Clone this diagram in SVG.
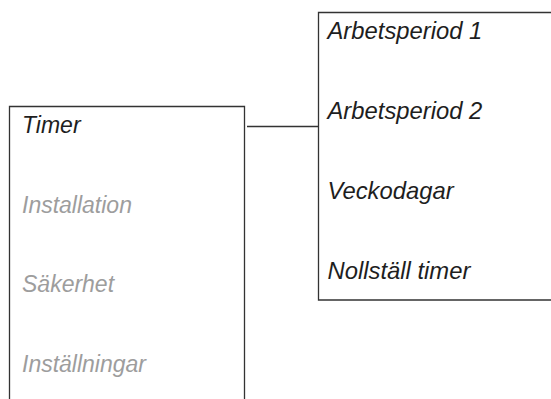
<svg xmlns="http://www.w3.org/2000/svg" width="551" height="399" viewBox="0 0 551 399">
<style>
.box{fill:#fff;stroke:#333;stroke-width:1.3}
.t{font-family:"Liberation Sans",Arial,sans-serif;font-style:italic;font-size:23px}
.r{font-size:23.8px}
.on{fill:#1e1e1e}
.off{fill:#9d9d9d}
.conn{stroke:#333;stroke-width:1.3;fill:none}
</style>
<rect width="551" height="399" fill="#fff"/>
<g id="menu-left">
<path class="box" d="M9.5,405 V106.5 H244.5 V405"/>
<text class="t on" x="22" y="133">Timer</text>
<text class="t off" x="22" y="213">Installation</text>
<text class="t off" x="22" y="292">Säkerhet</text>
<text class="t off" x="22" y="371.5">Inställningar</text>
</g>
<g id="menu-right">
<path class="box" d="M560,12.5 H318.5 V300 H560"/>
<text class="t r on" x="327.5" y="38.5">Arbetsperiod 1</text>
<text class="t r on" x="327.5" y="119">Arbetsperiod 2</text>
<text class="t r on" x="327.5" y="199">Veckodagar</text>
<text class="t r on" x="327.5" y="279">Nollställ timer</text>
</g>
<g id="connectors">
<line class="conn" x1="247" y1="126.5" x2="318.5" y2="126.5"/>
</g>
</svg>
